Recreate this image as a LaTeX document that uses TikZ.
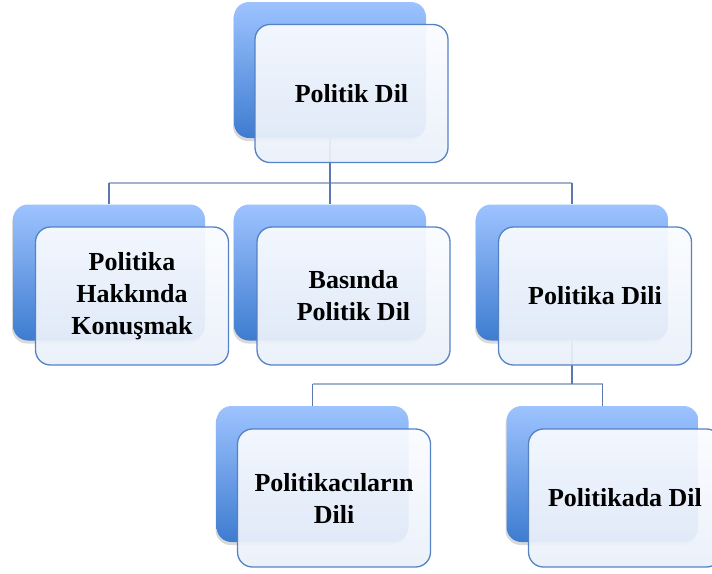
\documentclass[tikz,border=0pt]{standalone}
\usepackage{fontspec}
\setmainfont{Liberation Serif}
\usetikzlibrary{shadows}
\definecolor{backtop}{RGB}{157,195,255}
\definecolor{backbot}{RGB}{62,124,208}
\definecolor{frontbd}{RGB}{84,130,196}
\definecolor{fronttop}{RGB}{250,252,255}
\definecolor{frontbot}{RGB}{234,240,250}
\definecolor{hline}{RGB}{160,178,204}
\definecolor{vline}{RGB}{92,120,176}
\tikzset{
  backbox/.style={rectangle, rounded corners=15pt, minimum width=192pt, minimum height=136pt,
    top color=backtop, bottom color=backbot, draw=none,
    drop shadow={shadow xshift=-1pt, shadow yshift=-3pt, opacity=0.15, fill=black}},
  frontbox/.style={rectangle, rounded corners=15pt, minimum width=193pt, minimum height=138pt,
    top color=fronttop, bottom color=frontbot, fill opacity=0.93, text opacity=1,
    draw=frontbd, line width=1.3pt, align=center, text=black,
    font=\fontsize{26}{32}\selectfont\bfseries},
  hconn/.style={draw=hline, line width=2.5pt},
  vconn/.style={draw=vline, line width=1.6pt}
}
\begin{document}
\begin{tikzpicture}[x=1pt,y=-1pt]
\useasboundingbox (0,0) rectangle (712,573);
\clip (0,0) rectangle (712,573);
% back boxes
\node[backbox] (b0) at (330,70) {};
\node[backbox] (b1) at (109,272.5) {};
\node[backbox] (b2) at (330,272.5) {};
\node[backbox] (b3) at (572,272.5) {};
\node[backbox] (b4) at (312.5,474) {};
\node[backbox] (b5) at (602.5,474) {};
% connectors
\coordinate (h0) at (330,183);
\coordinate (h1) at (572,384);
\draw[hconn] (b1.north |- h0) -- (b3.north |- h0);
\draw[vconn] (b0.south) -- (b0.south |- h0);
\draw[vconn] (b1.north |- h0) -- (b1.north);
\draw[vconn] (b2.north |- h0) -- (b2.north);
\draw[vconn] (b3.north |- h0) -- (b3.north);
\draw[hconn] (b4.north |- h1) -- (b5.north |- h1);
\draw[vconn] (b3.south) -- (b3.south |- h1);
\draw[vconn] (b4.north |- h1) -- (b4.north);
\draw[vconn] (b5.north |- h1) -- (b5.north);
% front boxes
\node[frontbox] (f0) at (351.5,93.5) {Politik Dil};
\node[frontbox] (f1) at (132,296) {Politika\\Hakkında\\Konuşmak};
\node[frontbox] (f2) at (353.5,296) {Basında\\Politik Dil};
\node[frontbox] (f3) at (595,296) {Politika Dili};
\node[frontbox] (f4) at (334,498) {Politikacıların\\Dili};
\node[frontbox] (f5) at (625,498) {Politikada Dil};
\end{tikzpicture}
\end{document}
